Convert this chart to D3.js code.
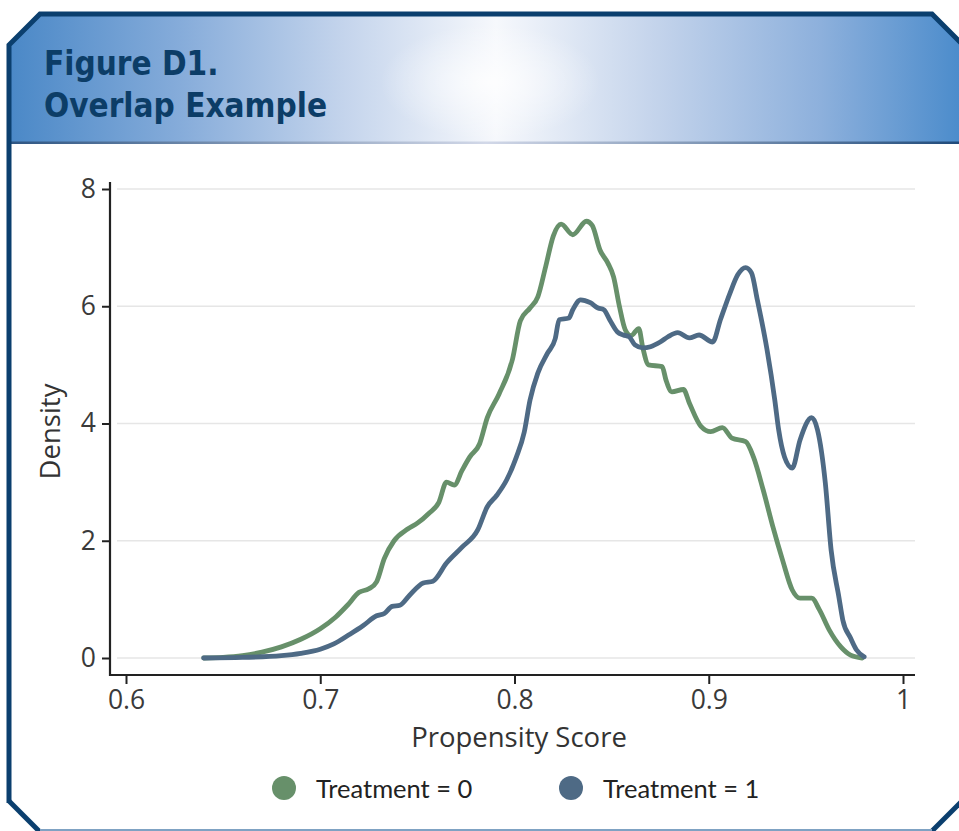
<!DOCTYPE html>
<html>
<head>
<meta charset="utf-8">
<script src="https://cdn.jsdelivr.net/npm/d3@7"></script>
<style>
  html, body { margin: 0; padding: 0; background: #fff; }
  svg { display: block; }
  .tick text { font-family: "Open Sans", "Noto Sans", sans-serif; fill: #3a3a3a; }
</style>
</head>
<body>
<div id="chart"></div>
<script>
// Chart data.
const titleLines = ["Figure D1.", "Overlap Example"];
const seriesNames = ["Treatment = 0", "Treatment = 1"];
const xTicks = [0.6, 0.7, 0.8, 0.9, 1];
const yTicks = [0, 2, 4, 6, 8];

// Treatment = 0 density (propensity score, density)
const treat0Score = [0.640, 0.650, 0.660, 0.670, 0.680, 0.690, 0.700, 0.708, 0.714, 0.720,
  0.725, 0.729, 0.733, 0.738, 0.745, 0.750, 0.756, 0.761, 0.765, 0.769,
  0.773, 0.777, 0.782, 0.786, 0.792, 0.799, 0.803, 0.808, 0.812, 0.816,
  0.820, 0.824, 0.830, 0.837, 0.840, 0.844, 0.848, 0.851, 0.854, 0.857,
  0.860, 0.864, 0.866, 0.869, 0.876, 0.878, 0.881, 0.887, 0.890, 0.896,
  0.901, 0.907, 0.912, 0.919, 0.923, 0.928, 0.933, 0.938, 0.943, 0.947,
  0.953, 0.957, 0.962, 0.968, 0.973, 0.979];
const treat0Density = [0.00, 0.01, 0.04, 0.10, 0.19, 0.32, 0.50, 0.70, 0.90, 1.12,
  1.18, 1.30, 1.70, 2.00, 2.20, 2.30, 2.47, 2.65, 3.00, 2.95,
  3.20, 3.43, 3.65, 4.10, 4.50, 5.10, 5.75, 5.97, 6.16, 6.67,
  7.20, 7.40, 7.22, 7.45, 7.38, 6.96, 6.74, 6.50, 6.00, 5.60,
  5.50, 5.62, 5.30, 5.00, 4.97, 4.74, 4.54, 4.58, 4.35, 3.95,
  3.86, 3.93, 3.75, 3.69, 3.43, 2.87, 2.24, 1.67, 1.16, 1.02,
  1.02, 0.82, 0.48, 0.19, 0.05, 0.00];

// Treatment = 1 density (propensity score, density)
const treat1Score = [0.640, 0.660, 0.680, 0.690, 0.700, 0.707, 0.715, 0.722, 0.729, 0.733,
  0.737, 0.741, 0.746, 0.753, 0.758, 0.765, 0.773, 0.781, 0.786, 0.791,
  0.796, 0.801, 0.805, 0.808, 0.812, 0.817, 0.821, 0.823, 0.828, 0.830,
  0.834, 0.839, 0.843, 0.846, 0.849, 0.853, 0.856, 0.859, 0.862, 0.866,
  0.870, 0.875, 0.879, 0.884, 0.890, 0.895, 0.902, 0.906, 0.911, 0.915,
  0.919, 0.922, 0.925, 0.930, 0.934, 0.936, 0.939, 0.943, 0.947, 0.953,
  0.956, 0.960, 0.963, 0.967, 0.969, 0.973, 0.976, 0.980];
const treat1Density = [0.00, 0.01, 0.04, 0.08, 0.15, 0.24, 0.40, 0.55, 0.72, 0.76,
  0.88, 0.90, 1.07, 1.28, 1.31, 1.62, 1.89, 2.18, 2.58, 2.78,
  3.04, 3.43, 3.85, 4.40, 4.86, 5.20, 5.45, 5.77, 5.80, 5.94,
  6.11, 6.06, 5.97, 5.94, 5.77, 5.56, 5.51, 5.48, 5.34, 5.29,
  5.31, 5.39, 5.48, 5.55, 5.46, 5.51, 5.39, 5.77, 6.23, 6.54,
  6.66, 6.57, 6.11, 5.26, 4.40, 3.89, 3.43, 3.24, 3.72, 4.10,
  3.89, 2.99, 1.84, 1.04, 0.65, 0.34, 0.14, 0.02];

const seriesColors = ["#67906a", "#4e6a85"];

// Page size.
const width = 959;
const height = 831;

const svg = d3.select("#chart")
  .append("svg")
  .attr("width", width)
  .attr("height", height);

const defs = svg.append("defs");

// Header fill: blue at both sides, fading to white in the middle.
const headerGrad = defs.append("linearGradient")
  .attr("id", "headerGrad")
  .attr("x1", "0%").attr("x2", "100%");
[["0%", "#4a88c7"], ["18%", "#86acda"], ["35%", "#c4d4ec"], ["51%", "#f6f8fc"],
 ["68%", "#c3d3eb"], ["85%", "#8db0dc"], ["100%", "#4a8bcb"]]
  .forEach(([o, c]) => headerGrad.append("stop").attr("offset", o).attr("stop-color", c));

const glow = defs.append("radialGradient")
  .attr("id", "glow")
  .attr("cx", "50%").attr("cy", "50%").attr("r", "50%");
glow.append("stop").attr("offset", "0%").attr("stop-color", "#fff").attr("stop-opacity", 0.8);
glow.append("stop").attr("offset", "100%").attr("stop-color", "#fff").attr("stop-opacity", 0);

const ruleGrad = defs.append("linearGradient")
  .attr("id", "ruleGrad")
  .attr("x1", "0%").attr("x2", "100%");
[["0%", "#2f5683"], ["50%", "#d2d8e8"], ["100%", "#1f4a7a"]]
  .forEach(([o, c]) => ruleGrad.append("stop").attr("offset", o).attr("stop-color", c));

// Header panel.
svg.append("path")
  .attr("d", "M9,45 L40,14 L932,14 L964,46 L964,143 L9,143 Z")
  .attr("fill", "url(#headerGrad)");
svg.append("ellipse")
  .attr("cx", 490).attr("cy", 82)
  .attr("rx", 110).attr("ry", 58)
  .attr("fill", "url(#glow)");
svg.append("rect")
  .attr("x", 11).attr("y", 141.5)
  .attr("width", 950).attr("height", 2.5)
  .attr("fill", "url(#ruleGrad)");

// Frame.
svg.append("path")
  .attr("d", "M9,803 L9,45 L40,14 L932,14 L964,46")
  .attr("fill", "none")
  .attr("stroke", "#0b3f6e")
  .attr("stroke-width", 5)
  .attr("stroke-linejoin", "miter");
svg.append("path")
  .attr("d", "M9,801 L40,832")
  .attr("stroke", "#0b3f6e")
  .attr("stroke-width", 5);
svg.append("path")
  .attr("d", "M931,832 L963,800")
  .attr("stroke", "#0b3f6e")
  .attr("stroke-width", 5);
svg.append("line")
  .attr("x1", 40).attr("x2", 932)
  .attr("y1", 830).attr("y2", 830)
  .attr("stroke", "#7fa2c3")
  .attr("stroke-width", 2);

// Title.
svg.append("text")
  .attr("x", 44)
  .attr("y", 75)
  .attr("font-family", "'DejaVu Sans Condensed', 'DejaVu Sans', sans-serif")
  .attr("font-weight", "bold")
  .attr("font-size", 33)
  .attr("fill", "#0c3d67")
  .selectAll("tspan")
  .data(titleLines)
  .join("tspan")
  .attr("x", 44)
  .attr("dy", (d, i) => i === 0 ? 0 : 42)
  .text((d) => d);

// Scales.
const xScale = d3.scaleLinear()
  .domain([0.6, 1.0])
  .range([126, 903]);
const yScale = d3.scaleLinear()
  .domain([0, 8])
  .range([658, 189]);

const plotLeft = 110;
const plotRight = 915;
const plotTop = 182;
const plotBottom = 675;

// Gridlines.
svg.append("g")
  .selectAll("line")
  .data(yTicks)
  .join("line")
  .attr("x1", 117)
  .attr("x2", plotRight)
  .attr("y1", (d) => yScale(d))
  .attr("y2", (d) => yScale(d))
  .attr("stroke", "#e6e6e6")
  .attr("stroke-width", 1.5);

// X axis.
const xAxis = svg.append("g")
  .attr("transform", `translate(0,${plotBottom})`)
  .call(d3.axisBottom(xScale)
    .tickValues(xTicks)
    .tickFormat(d3.format("~g"))
    .tickSize(9)
    .tickSizeOuter(0)
    .tickPadding(6));
xAxis.select(".domain").remove();
xAxis.selectAll(".tick line").attr("stroke", "#222").attr("stroke-width", 2);
xAxis.selectAll(".tick text").attr("font-size", 26.5);
svg.append("line")
  .attr("x1", plotLeft - 1).attr("x2", plotRight)
  .attr("y1", plotBottom).attr("y2", plotBottom)
  .attr("stroke", "#222").attr("stroke-width", 2.2);

// Y axis.
const yAxis = svg.append("g")
  .attr("transform", `translate(${plotLeft},0)`)
  .call(d3.axisLeft(yScale)
    .tickValues(yTicks)
    .tickSize(8)
    .tickSizeOuter(0)
    .tickPadding(6));
yAxis.select(".domain").remove();
yAxis.selectAll(".tick line").attr("stroke", "#222").attr("stroke-width", 2);
yAxis.selectAll(".tick text").attr("font-size", 26.5);
svg.append("line")
  .attr("x1", plotLeft).attr("x2", plotLeft)
  .attr("y1", plotTop).attr("y2", plotBottom + 1)
  .attr("stroke", "#222").attr("stroke-width", 2.2);

// Axis titles.
svg.append("text")
  .attr("x", 519)
  .attr("y", 747)
  .attr("text-anchor", "middle")
  .attr("font-family", "'Open Sans', 'Noto Sans', sans-serif")
  .attr("font-size", 27.5)
  .attr("fill", "#333")
  .text("Propensity Score");
svg.append("text")
  .attr("transform", `translate(60,${(yScale(0) + yScale(8)) / 2 + 8})rotate(-90)`)
  .attr("text-anchor", "middle")
  .attr("font-family", "'Open Sans', 'Noto Sans', sans-serif")
  .attr("font-size", 27.5)
  .attr("fill", "#333")
  .text("Density");

// Density curves.
const series = [
  treat0Score.map((s, i) => ({ score: s, density: treat0Density[i] })),
  treat1Score.map((s, i) => ({ score: s, density: treat1Density[i] }))
];

const line = d3.line()
  .x((d) => xScale(d.score))
  .y((d) => yScale(d.density))
  .curve(d3.curveMonotoneX);

svg.append("g")
  .selectAll("path")
  .data(series)
  .join("path")
  .attr("d", line)
  .attr("fill", "none")
  .attr("stroke", (d, i) => seriesColors[i])
  .attr("stroke-width", 4.8)
  .attr("stroke-linejoin", "round")
  .attr("stroke-linecap", "round");

// Legend.
const legendX = [284, 571];
const legend = svg.append("g")
  .selectAll("g")
  .data(seriesNames)
  .join("g")
  .attr("transform", (d, i) => `translate(${legendX[i]},788)`);
legend.append("circle")
  .attr("r", 12)
  .attr("fill", (d, i) => seriesColors[i]);
legend.append("text")
  .attr("x", 32)
  .attr("y", 9.5)
  .attr("font-family", "Lato, 'Open Sans', sans-serif")
  .attr("font-size", 25.5)
  .attr("fill", "#222")
  .text((d) => d);
</script>
</body>
</html>
